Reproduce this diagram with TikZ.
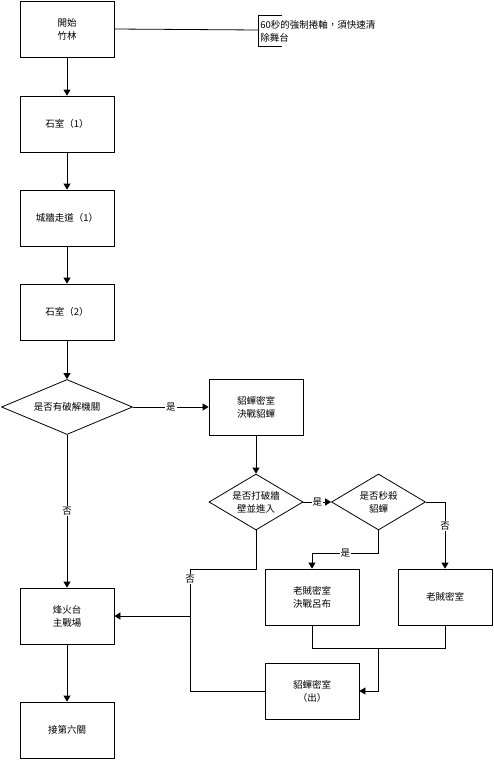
\documentclass[tikz,border=0pt]{standalone}
\usepackage{fontspec}
\newfontfamily\cjk{Noto Sans CJK TC}
\usetikzlibrary{shapes.geometric,arrows.meta,calc}
\begin{document}
\begin{tikzpicture}[x=1pt,y=-1pt,line width=0.8pt,
        font=\cjk\fontsize{9.5}{13}\selectfont,
        box/.style={draw,rectangle,minimum width=94pt,minimum height=56pt,
                        align=center,inner sep=0pt},
        decide/.style={draw,diamond,aspect=1.7,minimum width=94pt,
                        minimum height=56pt,align=center,inner sep=0pt},
        flow/.style={-{Triangle[width=7pt,length=6pt]}},
        lab/.style={fill=white,inner sep=1pt}]
        \useasboundingbox (0,0) rectangle (494,760);

        \node[box] (start) at (67,29) {開始\\竹林};
        \node[box] (stone1) at (67,124) {石室（1）};
        \node[box] (wall1) at (67,218) {城牆走道（1）};
        \node[box] (stone2) at (67,312) {石室（2）};
        \node[decide,aspect=2.4,minimum width=131pt,minimum height=55pt]
            (trap) at (67,407) {是否有破解機關};
        \node[box] (diao) at (256,407) {貂蟬密室\\決戰貂蟬};
        \node[decide] (breakwall) at (256,502) {是否打破牆\\壁並進入};
        \node[decide] (kill) at (378.5,502) {是否秒殺\\貂蟬};
        \node[box] (lubu) at (312,597) {老賊密室\\決戰呂布};
        \node[box] (thief) at (445,597) {老賊密室};
        \node[box] (exit) at (312,691) {貂蟬密室\\（出）};
        \node[box] (tower) at (67,616) {烽火台\\主戰場};
        \node[box] (next) at (67,730) {接第六關};

        % note on the first stage
        \node[align=left,anchor=west,inner sep=0pt] (note) at (260,31)
            {60秒的強制捲軸，須快速清\\除舞台};
        \coordinate (brk) at (258,30);
        \draw (brk) ++(24,-15) -- ++(-24,0) -- ++(0,31) -- ++(24,0);
        \draw (start.east) -- (brk);

        \draw[flow] (start) -- (stone1);
        \draw[flow] (stone1) -- (wall1);
        \draw[flow] (wall1) -- (stone2);
        \draw[flow] (stone2.south) -- (trap.north);
        \draw[flow] (trap.east) -- node[lab] {是} (diao.west);
        \draw[flow] (trap.south) -- node[lab] {否} (tower.north);
        \draw[flow] (diao) -- (breakwall);
        \draw[flow] (breakwall.east) -- node[lab] {是} (kill.west);
        \draw[flow] (kill.south) -- ++(0,23) -| node[lab,pos=0.25] {是} (lubu.north);
        \draw[flow] (kill.east) -| node[lab,pos=0.68] {否} (thief.north);

        % back to the main field
        \coordinate (join) at (190,616);
        \coordinate (merge) at ($(lubu.south)!0.5!(thief.south)+(0,23)$);
        \draw (breakwall.south) -- ++(0,39) -| node[lab,pos=0.6] {否} (join);
        \draw (exit.west) -| (join);
        \draw[flow] (join) -- (tower.east);
        \draw (lubu.south) |- (merge);
        \draw (thief.south) |- (merge);
        \draw[flow] (merge) |- (exit.east);
        \draw[flow] (tower) -- (next);
    \end{tikzpicture}
\end{document}
